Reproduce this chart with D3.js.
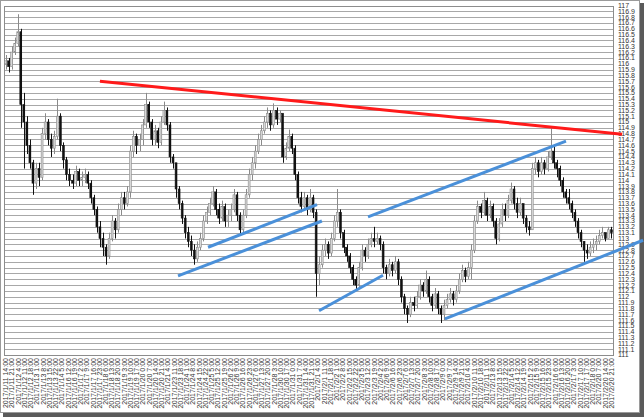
<!DOCTYPE html>
<html><head><meta charset="utf-8">
<script src="https://cdn.jsdelivr.net/npm/d3@7"></script>
<style>body{margin:0;background:#fff}svg{display:block}text{font-family:"Liberation Sans",Arial,sans-serif}</style>
</head><body>
<script>
// ---- data ----
const firstOpen = 116.0;
const closes = [
116.05,115.95,116.2,116.35,116.55,115.3,115.0,114.6,114.3,113.95,
114.2,114.05,114.8,115.0,114.7,114.55,114.75,115.1,114.6,114.35,
114.1,114.0,113.95,114.15,114.0,114.05,
114.1,113.95,113.7,113.5,113.2,
113.0,112.85,112.7,113.0,113.3,113.15,113.5,113.7,113.6,113.8,
114.5,114.75,114.6,114.7,114.95,115.3,115.0,114.7,114.85,114.65,
115.0,115.2,114.95,114.4,114.3,113.85,113.6,113.35,113.1,112.95,
112.8,112.65,112.85,113.0,113.3,113.45,113.6,113.8,113.5,113.35,
113.55,113.3,113.4,
113.5,113.75,113.4,113.15,113.4,113.75,114.1,114.3,
114.5,114.7,114.85,115.0,115.15,114.95,115.2,115.05,115.15,114.4,
114.55,114.75,114.55,114.1,113.7,113.55,113.7,113.5,113.7,113.45,
112.4,112.55,112.8,112.9,112.75,113.0,113.3,113.45,113.1,112.85,
112.7,112.5,112.3,112.2,112.5,112.8,112.7,112.9,113.0,112.95,
113.0,112.9,112.5,
112.4,112.55,112.45,112.6,112.3,112.0,111.8,
111.7,111.9,111.85,112.0,112.2,112.1,
112.3,112.0,111.85,112.05,
111.8,111.7,111.85,111.95,112.05,111.95,112.1,112.3,112.45,112.35,112.5,
112.8,113.3,113.55,113.45,113.65,113.4,113.55,113.3,113.0,113.25,
113.5,113.4,113.65,113.85,113.6,113.45,113.6,
113.35,113.2,113.15,
114.2,114.3,114.15,114.3,114.2,114.4,114.5,114.3,114.2,114.0,
113.8,113.7,
113.6,113.45,113.3,113.1,112.95,112.8,112.75,112.85,112.9,
112.95,113.05,113.1,113.0,113.15,113.1
];
const highs = [
116.15,116.1,116.3,116.45,116.85,116.6,115.5,115.1,114.7,114.35,
114.3,114.3,114.9,115.15,115.05,114.8,114.85,115.4,115.15,114.65,
114.4,114.2,114.1,114.25,114.2,114.15,
114.2,114.15,114.0,113.75,113.55,
113.3,113.1,112.9,113.1,113.4,113.35,113.6,113.8,113.8,113.9,
114.6,114.85,114.8,114.8,115.05,115.5,115.35,115.05,114.95,114.9,
115.1,115.35,115.25,115.0,114.45,114.0,113.9,113.65,113.4,113.2,
113.05,112.9,112.95,113.1,113.4,113.55,113.7,113.9,113.85,113.6,
113.65,113.6,113.5,
113.6,113.85,113.8,113.45,113.5,113.85,114.2,114.4,
114.6,114.8,114.95,115.1,115.25,115.2,115.32,115.25,115.2,114.6,
114.65,114.87,114.8,114.6,114.15,113.8,113.8,113.75,113.85,113.75,
113.5,112.7,112.9,113.0,112.95,113.1,113.4,113.85,113.5,113.15,
112.9,112.75,112.55,112.35,112.6,112.9,112.85,113.0,113.1,113.2,
113.1,113.05,112.95,
112.55,112.65,112.6,112.7,112.65,112.35,112.05,
111.85,112.0,112.0,112.1,112.3,112.25,
112.45,112.35,112.05,112.15,
112.1,111.85,111.95,112.05,112.15,112.1,112.2,112.4,112.55,112.5,112.6,
112.9,113.4,113.65,113.6,113.8,113.7,113.65,113.6,113.35,113.35,
113.6,113.6,113.75,113.96,113.9,113.7,113.7,
113.55,113.4,113.3,
114.3,114.4,114.35,114.4,114.35,114.5,114.9,114.6,114.35,114.25,
114.05,113.85,
113.85,113.65,113.5,113.35,113.15,112.95,112.9,112.95,113.0,
113.05,113.15,113.2,113.1,113.2,113.2
];
const lows = [
115.9,115.85,115.9,116.15,116.3,114.9,114.2,114.45,114.2,113.75,
113.85,113.9,114.0,114.7,114.6,114.4,114.45,114.7,114.5,114.2,
114.0,113.9,113.85,113.9,113.9,113.9,
113.95,113.85,113.6,113.4,113.1,
112.85,112.7,112.55,112.65,112.95,113.0,113.1,113.4,113.5,113.55,
113.7,114.4,114.45,114.5,114.6,114.9,114.9,114.6,114.6,114.55,
114.6,114.95,114.85,114.3,114.2,113.7,113.5,113.25,113.0,112.85,
112.7,112.55,112.6,112.8,112.95,113.25,113.4,113.55,113.4,113.25,
113.3,113.2,113.2,
113.3,113.45,113.3,113.05,113.1,113.35,113.7,114.0,
114.2,114.45,114.6,114.8,114.9,114.85,114.9,114.95,115.0,114.3,
114.35,114.5,114.45,114.0,113.6,113.45,113.5,113.4,113.45,113.35,
112.0,112.2,112.5,112.7,112.65,112.7,112.95,113.2,113.0,112.75,
112.6,112.4,112.2,112.1,112.15,112.45,112.6,112.65,112.85,112.85,
112.9,112.8,112.4,
112.3,112.35,112.35,112.4,112.2,111.9,111.7,
111.55,111.65,111.75,111.8,111.95,112.0,
112.05,111.9,111.75,111.8,
111.7,111.55,111.6,111.8,111.9,111.85,111.9,112.05,112.25,112.25,112.3,
112.3,112.75,113.25,113.35,113.4,113.3,113.35,113.2,112.9,112.95,
113.2,113.3,113.35,113.6,113.5,113.35,113.4,
113.25,113.1,113.05,
113.15,114.1,114.05,114.1,114.1,114.15,114.35,114.2,114.05,113.9,
113.7,113.6,
113.5,113.35,113.2,113.0,112.85,112.6,112.65,112.7,112.75,
112.8,112.9,113.0,112.95,113.0,113.0
];
const xLabels = [
"2017/1/11 14:00","2017/1/11 21:00","2017/1/12 4:00","2017/1/12 11:00","2017/1/12 18:00","2017/1/13 1:00","2017/1/13 8:00","2017/1/13 15:00","2017/1/13 22:00","2017/1/14 5:00",
"2017/1/16 12:00","2017/1/16 19:00","2017/1/17 2:00","2017/1/17 9:00","2017/1/17 16:00","2017/1/17 23:00","2017/1/18 6:00","2017/1/18 13:00","2017/1/18 20:00","2017/1/19 3:00","2017/1/19 10:00","2017/1/19 17:00","2017/1/20 0:00","2017/1/20 7:00","2017/1/20 14:00","2017/1/20 21:00","2017/1/21 4:00",
"2017/1/23 11:00","2017/1/23 18:00","2017/1/24 1:00","2017/1/24 8:00","2017/1/24 15:00","2017/1/24 22:00","2017/1/25 5:00","2017/1/25 12:00","2017/1/25 19:00","2017/1/26 2:00","2017/1/26 9:00","2017/1/26 16:00","2017/1/26 23:00","2017/1/27 6:00","2017/1/27 13:00","2017/1/27 20:00","2017/1/28 3:00",
"2017/1/30 10:00","2017/1/30 17:00","2017/1/31 0:00","2017/1/31 7:00","2017/1/31 14:00","2017/1/31 21:00","2017/2/1 4:00","2017/2/1 11:00","2017/2/1 18:00","2017/2/2 1:00","2017/2/2 8:00","2017/2/2 15:00","2017/2/2 22:00","2017/2/3 5:00","2017/2/3 12:00","2017/2/3 19:00","2017/2/4 2:00",
"2017/2/6 9:00","2017/2/6 16:00","2017/2/6 23:00","2017/2/7 6:00","2017/2/7 13:00","2017/2/7 20:00","2017/2/8 3:00","2017/2/8 10:00","2017/2/8 17:00","2017/2/9 0:00","2017/2/9 7:00","2017/2/9 14:00","2017/2/9 21:00","2017/2/10 4:00","2017/2/10 11:00","2017/2/10 18:00","2017/2/11 1:00",
"2017/2/13 8:00","2017/2/13 15:00","2017/2/13 22:00","2017/2/14 5:00","2017/2/14 12:00","2017/2/14 19:00","2017/2/15 2:00","2017/2/15 9:00","2017/2/15 16:00","2017/2/15 23:00","2017/2/16 6:00","2017/2/16 13:00","2017/2/16 20:00","2017/2/17 3:00","2017/2/17 10:00","2017/2/17 17:00","2017/2/18 0:00",
"2017/2/20 7:00","2017/2/20 14:00","2017/2/20 21:00"
];
const yTicks = [117,116.9,116.8,116.7,116.6,116.5,116.4,116.3,116.2,116.1,
116,115.9,115.8,115.7,115.6,115.5,115.4,115.3,115.2,115.1,
115,114.9,114.8,114.7,114.6,114.5,114.4,114.3,114.2,114.1,
114,113.9,113.8,113.7,113.6,113.5,113.4,113.3,113.2,113.1,
113,112.9,112.8,112.7,112.6,112.5,112.4,112.3,112.2,112.1,
112,111.9,111.8,111.7,111.6,111.5,111.4,111.3,111.2,111.1,111];
// trend lines: [candle position, price] pairs
const redLines = [[[31.0,115.70],[202.5,114.79]]];
const blueLines = [
  [[66.5,112.85],[102.3,113.58]],
  [[56.65,112.36],[103.9,113.30]],
  [[102.96,111.76],[123.97,112.37]],
  [[119.05,113.37],[184.07,114.67]],
  [[144.3,111.62],[209.4,112.97]]
];

// ---- chart ----
const W = 644, H = 420;
const L = 4, R = 613, T = 5.5, B = 355;
const N = closes.length;
const opens = closes.map((c,i)=> i===0 ? firstOpen : closes[i-1]);

const svg = d3.select("body").append("svg").attr("width",W).attr("height",H);

// outer frame + shadow
svg.append("rect").attr("x",3).attr("y",413).attr("width",641).attr("height",4).attr("fill","#5a5a5a");
svg.append("rect").attr("x",640).attr("y",3).attr("width",4).attr("height",414).attr("fill","#5a5a5a");
svg.append("rect").attr("x",0.5).attr("y",0.5).attr("width",639).attr("height",412).attr("fill","#fff").attr("stroke","#9a9a9a");

const y = d3.scaleLinear().domain([111,117]).range([B,T]);
const x = d3.scaleBand().domain(d3.range(N)).range([L,R]).paddingInner(0.38).paddingOuter(0.2);
const xc = i => x(i) + x.bandwidth()/2;
const xPos = d3.scaleLinear().domain([0,N-1]).range([xc(0), xc(N-1)]);
const xl = d3.scalePoint().domain(xLabels).range([xc(0), xc(N-1)]);

// gridlines
svg.append("g").selectAll("line").data(yTicks).join("line")
  .attr("x1",L).attr("x2",R)
  .attr("y1",d=>Math.round(y(d))+0.5).attr("y2",d=>Math.round(y(d))+0.5)
  .attr("stroke","#a8a8a8").attr("stroke-width",1);
// plot frame
svg.append("rect").attr("x",L+0.5).attr("y",Math.round(T)+0.5).attr("width",R-L).attr("height",Math.round(B)-Math.round(T))
  .attr("fill","none").attr("stroke","#8c8c8c");

// y labels
svg.append("g").selectAll("text").data(yTicks).join("text")
  .attr("x",R+5).attr("y",d=>y(d)).attr("dy","0.35em")
  .attr("font-size",7).attr("fill","#333").text(d=>String(d));

// x labels
svg.append("g").selectAll("text").data(xLabels).join("text")
  .attr("transform",d=>`translate(${xl(d)+2.5},${B+3}) rotate(-90)`)
  .attr("text-anchor","end").attr("font-size",7).attr("fill","#333").text(d=>d);

// candles
const cg = svg.append("g");
const idx = d3.range(N);
cg.selectAll("line.w").data(idx).join("line")
  .attr("x1",i=>Math.round(xc(i))+0.5).attr("x2",i=>Math.round(xc(i))+0.5)
  .attr("y1",i=>y(highs[i])).attr("y2",i=>y(lows[i]))
  .attr("stroke",i=>closes[i]>=opens[i]?"#8a8a8a":"#111").attr("stroke-width",1);
cg.selectAll("rect.b").data(idx).join("rect")
  .attr("x",i=>x(i)).attr("width",x.bandwidth())
  .attr("y",i=>y(Math.max(opens[i],closes[i])))
  .attr("height",i=>Math.max(1,Math.abs(y(opens[i])-y(closes[i]))))
  .attr("fill",i=>closes[i]>=opens[i]?"#d8d8d8":"#111")
  .attr("stroke",i=>closes[i]>=opens[i]?"#8a8a8a":"#111").attr("stroke-width",0.6);

// trend lines
const line = d3.line().x(d=>xPos(d[0])).y(d=>y(d[1]));
svg.append("g").selectAll("path").data(blueLines).join("path")
  .attr("d",line).attr("stroke","#4a90d9").attr("stroke-width",3).attr("fill","none");
svg.append("g").selectAll("path").data(redLines).join("path")
  .attr("d",line).attr("stroke","#ff1a1a").attr("stroke-width",3).attr("fill","none");
</script>
</body></html>
